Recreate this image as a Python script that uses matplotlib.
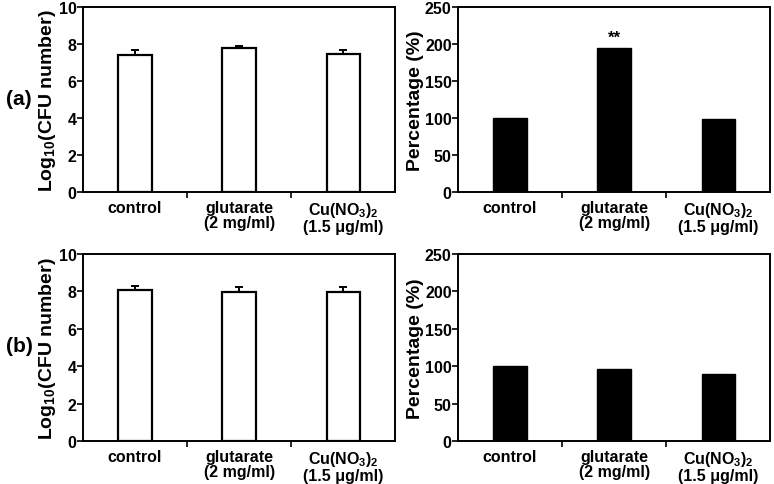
import matplotlib
matplotlib.use("Agg")
import matplotlib.pyplot as plt

plt.rcParams['font.family'] = ['Liberation Sans', 'DejaVu Sans']
plt.rcParams['font.weight'] = 'bold'
plt.rcParams['mathtext.fontset'] = 'custom'
plt.rcParams['mathtext.rm'] = 'Liberation Sans:bold'
plt.rcParams['mathtext.bf'] = 'Liberation Sans:bold'
plt.rcParams['mathtext.it'] = 'Liberation Sans:bold'

categories = ["control", "glutarate\n(2 mg/ml)", "Cu(NO$_{3}$)$_{2}$\n(1.5 \u03bcg/ml)"]

# panel (a)
a_log = [7.4, 7.8, 7.45]
a_log_err = [0.3, 0.07, 0.22]
a_pct = [100, 195, 99]
# panel (b)
b_log = [8.05, 7.98, 7.95]
b_log_err = [0.25, 0.24, 0.27]
b_pct = [100, 96, 90]

row_labels = ["(a)", "(b)"]
log_label = "Log$_{10}$(CFU number)"
pct_label = "Percentage (%)"

fig = plt.figure(figsize=(7.74, 4.85), dpi=100)

W = 0.4035
axes_pos = {
    (0, 0): [0.1072, 0.602, W, 0.3814],
    (0, 1): [0.5917, 0.602, W, 0.3814],
    (1, 0): [0.1072, 0.0887, W, 0.3856],
    (1, 1): [0.5917, 0.0887, W, 0.3856],
}
row_label_y = [1 - 100 / 485, 1 - 347 / 485]

x = list(range(len(categories)))
bar_w = 0.32

def style(ax, ylim, yticks, ylabel):
    ax.set_xlim(-0.5, 2.5)
    ax.set_ylim(*ylim)
    ax.set_yticks(yticks)
    ax.set_xticks(x)
    ax.set_xticklabels(categories, fontsize=11.5, fontweight='bold', linespacing=0.95)
    ax.set_xticks([0.5, 1.5], minor=True)
    ax.tick_params(axis='x', which='major', length=0, pad=6)
    ax.tick_params(axis='x', which='minor', length=4, width=1.2, direction='out')
    ax.tick_params(axis='y', which='major', length=4, width=1.2, direction='out',
                   labelsize=11.5, pad=0.5)
    for lab in ax.get_yticklabels():
        lab.set_fontweight('bold')
    for sp in ax.spines.values():
        sp.set_linewidth(1.4)
    ax.set_ylabel(ylabel, fontsize=14, fontweight='bold', labelpad=0.5)

logs = [(a_log, a_log_err), (b_log, b_log_err)]
pcts = [a_pct, b_pct]

for r in range(2):
    ax = fig.add_axes(axes_pos[(r, 0)])
    vals, errs = logs[r]
    ax.bar(x, vals, width=bar_w, color='white', edgecolor='black', linewidth=1.6, zorder=2)
    ax.errorbar(x, vals, yerr=[[0] * len(errs), errs], fmt='none', ecolor='black',
                elinewidth=1.4, capsize=3, capthick=1.4, zorder=3)
    style(ax, (0, 10), [0, 2, 4, 6, 8, 10], log_label)
    fig.text(19 / 774, row_label_y[r], row_labels[r], fontsize=15,
             fontweight='bold', ha='center', va='center')

    ax2 = fig.add_axes(axes_pos[(r, 1)])
    ax2.bar(x, pcts[r], width=bar_w, color='black', edgecolor='black', linewidth=1.0, zorder=2)
    style(ax2, (0, 250), [0, 50, 100, 150, 200, 250], pct_label)
    if r == 0:
        ax2.text(1, pcts[r][1] + 4, "**", ha='center', va='bottom', fontsize=12,
                 fontweight='bold')

fig.savefig("out.png", dpi=100)
